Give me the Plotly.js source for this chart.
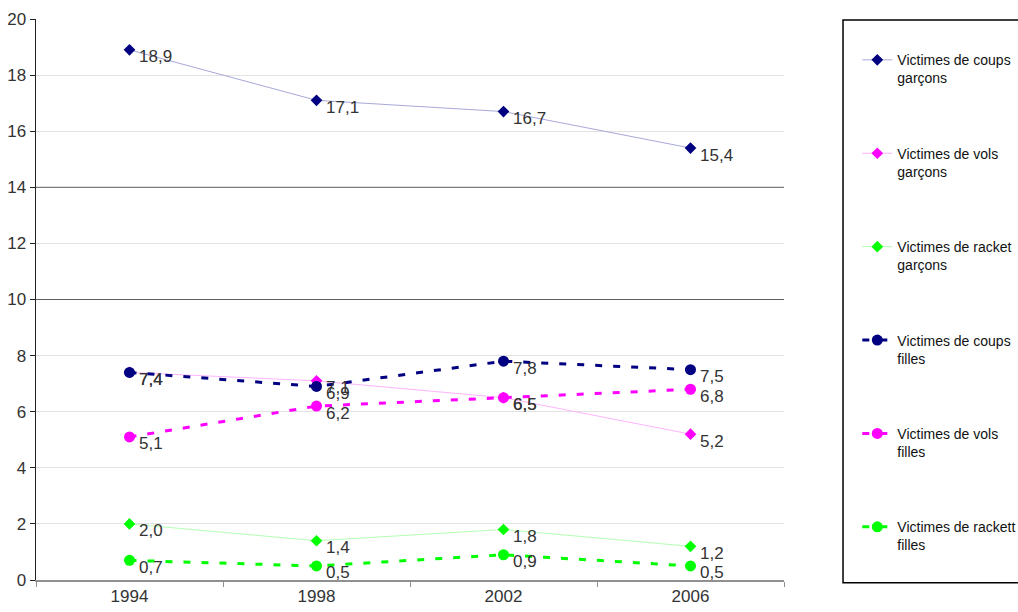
<!DOCTYPE html>
<html><head><meta charset="utf-8">
<script src="https://cdn.plot.ly/plotly-3.0.1.min.js"></script>
<style>html,body{margin:0;padding:0;background:#fff}#chart{width:1018px;height:612px}</style>
</head><body><div id="chart"></div>
<script>
const years = ['1994','1998','2002','2006'];
const coupsGarcons = [18.9, 17.1, 16.7, 15.4];
const volsGarcons = [7.4, 7.1, 6.5, 5.2];
const racketGarcons = [2.0, 1.4, 1.8, 1.2];
const coupsFilles = [7.4, 6.9, 7.8, 7.5];
const volsFilles = [5.1, 6.2, 6.5, 6.8];
const racketFilles = [0.7, 0.5, 0.9, 0.5];
const yTicks = [0,2,4,6,8,10,12,14,16,18,20];
const strongGrid = [10, 14];

const series = [
  {name:'Victimes de coups<br>garçons', y:coupsGarcons, color:'#000080', line:'#a8a8d8', girls:false},
  {name:'Victimes de vols<br>garçons', y:volsGarcons, color:'#ff00ff', line:'#ffb4ff', girls:false},
  {name:'Victimes de racket<br>garçons', y:racketGarcons, color:'#00ff00', line:'#b4ffb4', girls:false},
  {name:'Victimes de coups<br>filles', y:coupsFilles, color:'#000080', line:'#000080', girls:true},
  {name:'Victimes de vols<br>filles', y:volsFilles, color:'#ff00ff', line:'#ff00ff', girls:true},
  {name:'Victimes de rackett<br>filles', y:racketFilles, color:'#00ff00', line:'#00ff00', girls:true}
];

const traces = series.map((s,i) => ({
  type:'scatter', mode:'lines+markers', x:years, y:s.y, name:s.name,
  legendgroup:'g'+i,
  line:{color:s.line, width:s.girls?3:1, dash:s.girls?'7px,11px':'solid'},
  marker:{color:s.color, symbol:s.girls?'circle':'diamond', size:s.girls?11:9},
  hoverinfo:'skip'
}));

const annotations = [];
series.forEach(s => s.y.forEach((v,j) => annotations.push({
  x:j, y:v, xref:'x', yref:'y', text:v.toFixed(1).replace('.',','),
  showarrow:false, xanchor:'left', yanchor:'middle', xshift:7, yshift:-7,
  font:{family:'Liberation Sans, Arial, sans-serif', size:17, color:'#333'}
})));

const shapes = strongGrid.map(v => ({type:'line', xref:'paper', yref:'y', x0:0, x1:1, y0:v, y1:v,
  line:{color:'#606060', width:1}, layer:'above'}));
shapes.push({type:'rect', xref:'paper', yref:'paper', x0:1.0789, x1:1.4, y0:-0.005, y1:0.998,
  line:{color:'#000', width:1.5}, fillcolor:'rgba(0,0,0,0)'});

const layout = {
  width:1018, height:612,
  margin:{l:36, r:234, t:19, b:32, autoexpand:false},
  paper_bgcolor:'#fff', plot_bgcolor:'#fff',
  font:{family:'Liberation Sans, Arial, sans-serif', color:'#333'},
  xaxis:{type:'category', range:[-0.5,3.5], showgrid:false, showline:true, linecolor:'#909090', linewidth:1.5,
    ticks:'outside', tickson:'boundaries', ticklen:5, tickcolor:'#909090',
    tickfont:{size:17, color:'#333'}, zeroline:false, fixedrange:true},
  yaxis:{range:[0,20], tickvals:yTicks, ticktext:yTicks.map(String), showgrid:true, gridcolor:'#e2e2e2',
    showline:true, linecolor:'#222', linewidth:1.5, ticks:'outside', ticklen:5, tickcolor:'#222',
    tickfont:{size:17, color:'#333'}, zeroline:false, fixedrange:true},
  showlegend:true,
  legend:{x:1.098, xanchor:'left', y:0.955, yanchor:'top', valign:'top', tracegroupgap:54,
    font:{size:14, color:'#111'}, bgcolor:'rgba(0,0,0,0)', borderwidth:0},
  annotations:annotations, shapes:shapes
};
Plotly.newPlot('chart', traces, layout, {displayModeBar:false, staticPlot:true});
</script></body></html>
